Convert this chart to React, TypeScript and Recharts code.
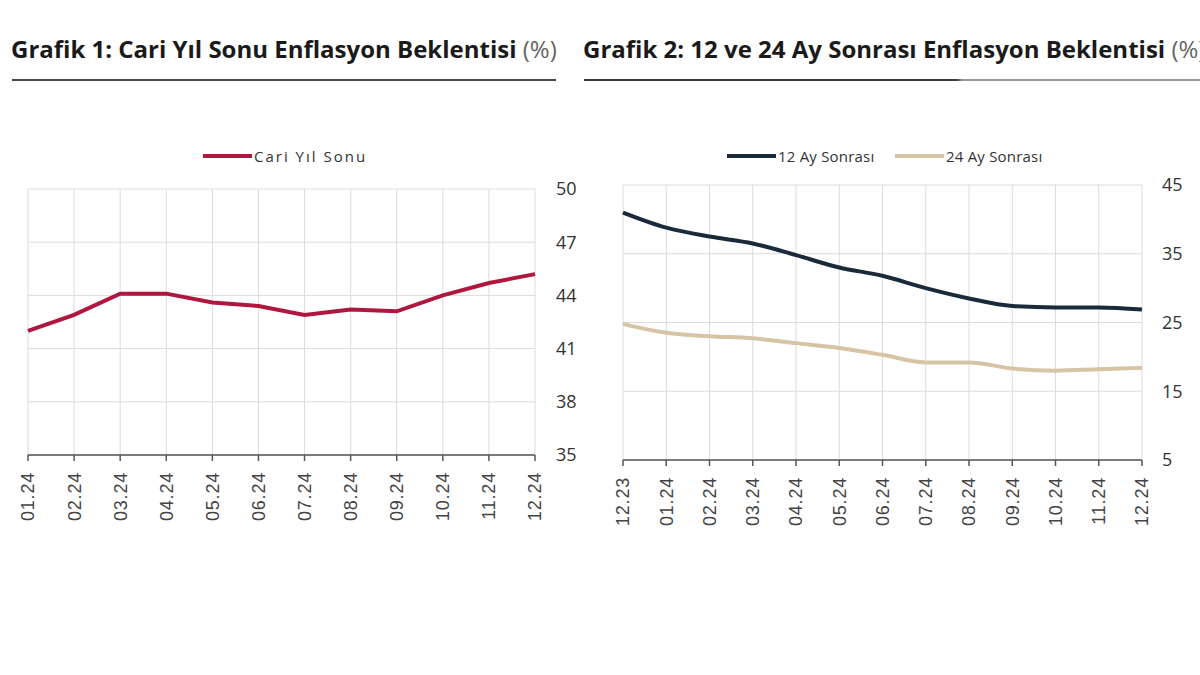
import { LineChart, Line, XAxis, YAxis, CartesianGrid } from "recharts";

// Grafik 1: cari yıl sonu beklentisi
const months1 = ["01.24", "02.24", "03.24", "04.24", "05.24", "06.24", "07.24", "08.24", "09.24", "10.24", "11.24", "12.24"];
const cariYilSonu = [42.0, 42.9, 44.1, 44.1, 43.6, 43.4, 42.9, 43.2, 43.1, 44.0, 44.7, 45.2];
const ticks1 = [35, 38, 41, 44, 47, 50];

// Grafik 2: 12 ve 24 ay sonrası
const months2 = ["12.23", "01.24", "02.24", "03.24", "04.24", "05.24", "06.24", "07.24", "08.24", "09.24", "10.24", "11.24", "12.24"];
const ay12 = [41.0, 38.8, 37.5, 36.5, 34.8, 33.0, 31.8, 30.0, 28.5, 27.4, 27.2, 27.2, 26.9];
const ay24 = [24.8, 23.5, 23.0, 22.7, 22.0, 21.3, 20.3, 19.2, 19.2, 18.3, 18.0, 18.2, 18.4];
const ticks2 = [5, 15, 25, 35, 45];

const data1 = months1.map((m, i) => ({ m, v: cariYilSonu[i] }));
const data2 = months2.map((m, i) => ({ m, a: ay12[i], b: ay24[i] }));

const RED = "#b0173f";
const NAVY = "#1b2a3a";
const TAN = "#d6c4a4";
const GRID = "#dcdcdc";

function MonthTick(props: any) {
  const { x, y, payload } = props;
  return (
    <g transform={`translate(${x},${y + 9})`}>
      <text
        x={0}
        y={0}
        dy="0.36em"
        textAnchor="end"
        transform="rotate(-90)"
        fontFamily="'Liberation Sans', Arial, sans-serif"
        fontSize={18}
        letterSpacing={0.8}
        fill="#444"
      >
        {payload.value}
      </text>
    </g>
  );
}

const yTick = { fontFamily: "'Open Sans', sans-serif", fontSize: 18, fill: "#333" };

function Title({ left, text, width, lineBg }: { left: number; text: string; width: number; lineBg: string }) {
  return (
    <>
      <div
        style={{
          position: "absolute",
          left,
          top: 33,
          whiteSpace: "nowrap",
          fontFamily: "'Open Sans', sans-serif",
          fontWeight: 700,
          fontSize: 24,
          lineHeight: "32px",
          color: "#1a1a1a",
        }}
      >
        {text} <span style={{ fontWeight: 400, color: "#666" }}>(%)</span>
      </div>
      <div style={{ position: "absolute", left: left + 1, top: 79, width, height: 2, background: lineBg }} />
    </>
  );
}

function LegendItem({ left, color, label, spacing }: { left: number; color: string; label: string; spacing: number }) {
  return (
    <div style={{ position: "absolute", left, top: 145, height: 22, display: "flex", alignItems: "center", whiteSpace: "nowrap" }}>
      <div style={{ width: 49, height: 4, background: color, marginRight: 2 }} />
      <span style={{ fontFamily: "'Open Sans', sans-serif", fontSize: 15, letterSpacing: spacing, color: "#333" }}>{label}</span>
    </div>
  );
}

export default function App() {
  return (
    <div style={{ position: "absolute", left: 0, top: 0, width: 1200, height: 675, background: "#fff", overflow: "hidden" }}>
      <Title left={11} text="Grafik 1: Cari Yıl Sonu Enflasyon Beklentisi" width={544} lineBg="#4a4a4a" />
      <Title
        left={583}
        text="Grafik 2: 12 ve 24 Ay Sonrası Enflasyon Beklentisi"
        width={620}
        lineBg="linear-gradient(to right, #3a3a3a 0%, #3a3a3a 60%, #9a9a9a 61%, #9a9a9a 100%)"
      />

      <LegendItem left={203} color={RED} label="Cari Yıl Sonu" spacing={2} />
      <LegendItem left={727} color={NAVY} label="12 Ay Sonrası" spacing={0.2} />
      <LegendItem left={895} color={TAN} label="24 Ay Sonrası" spacing={0.2} />

      <div style={{ position: "absolute", left: 0, top: 0 }}>
        <LineChart width={600} height={540} data={data1} margin={{ top: 189, right: 25, left: 28, bottom: 15 }}>
          <CartesianGrid stroke={GRID} strokeWidth={1} />
          <XAxis
            dataKey="m"
            interval={0}
            height={70}
            tick={<MonthTick />}
            tickSize={6}
            stroke="#555"
            strokeWidth={1.5}
          />
          <YAxis
            orientation="right"
            domain={[35, 50]}
            ticks={ticks1}
            width={40}
            axisLine={false}
            tickLine={false}
            tickSize={0}
            tickMargin={21}
            tick={yTick}
          />
          <Line dataKey="v" stroke={RED} strokeWidth={4} dot={false} type="linear" isAnimationActive={false} />
        </LineChart>
      </div>

      <div style={{ position: "absolute", left: 600, top: 0 }}>
        <LineChart width={600} height={540} data={data2} margin={{ top: 185, right: 18, left: 23, bottom: 10 }}>
          <CartesianGrid stroke={GRID} strokeWidth={1} />
          <XAxis
            dataKey="m"
            interval={0}
            height={70}
            tick={<MonthTick />}
            tickSize={6}
            stroke="#555"
            strokeWidth={1.5}
          />
          <YAxis
            orientation="right"
            domain={[5, 45]}
            ticks={ticks2}
            width={40}
            axisLine={false}
            tickLine={false}
            tickSize={0}
            tickMargin={20}
            tick={yTick}
          />
          <Line dataKey="b" stroke={TAN} strokeWidth={4} dot={false} type="monotone" isAnimationActive={false} />
          <Line dataKey="a" stroke={NAVY} strokeWidth={4} dot={false} type="monotone" isAnimationActive={false} />
        </LineChart>
      </div>
    </div>
  );
}
